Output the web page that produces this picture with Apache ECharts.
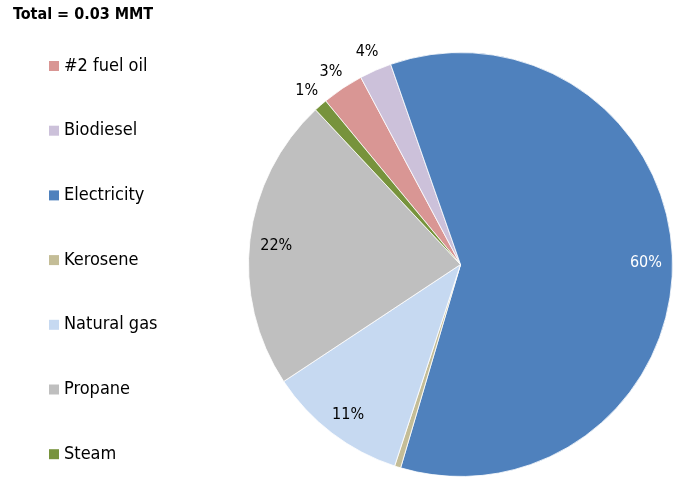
<!DOCTYPE html>
<html>
<head>
<meta charset="utf-8">
<script src="https://cdn.jsdelivr.net/npm/echarts@6/dist/echarts.min.js"></script>
<style>
  html, body { margin: 0; padding: 0; background: #fff; }
  #chart { width: 682px; height: 478px; }
</style>
</head>
<body>
<div id="chart"></div>
<script>
// fuel categories (legend order, drawn clockwise)
const categories = ["#2 fuel oil", "Biodiesel", "Electricity", "Kerosene", "Natural gas", "Propane", "Steam"];
// share of total, %
const shares = [3.18, 2.45, 59.9, 0.47, 10.67, 22.32, 1.01];
// data labels as printed on the chart
const pctLabels = ["3%", "4%", "60%", "", "11%", "22%", "1%"];
const colors = ["#D99694", "#CCC1DA", "#4F81BD", "#C4BD97", "#C6D9F1", "#BFBFBF", "#77933C"];
// which labels sit outside the pie
const outside = [true, true, false, false, false, false, true];

const FONT = '"DejaVu Sans Condensed", "DejaVu Sans", sans-serif';
const center = [460.5, 264.5];
const startAngle = 129.5;

const chart = echarts.init(document.getElementById("chart"));

const pieData = categories.map((name, i) => ({
  name: name,
  value: shares[i],
  itemStyle: { color: colors[i] },
}));

// transparent ring that only carries labels
const labelRing = (radius, pickOutside) => ({
  type: "pie",
  radius: radius,
  center: center,
  startAngle: startAngle,
  clockwise: true,
  silent: true,
  avoidLabelOverlap: false,
  emphasis: { disabled: true },
  itemStyle: { color: "rgba(0,0,0,0)", borderWidth: 0 },
  labelLine: { show: false },
  data: categories.map((name, i) => ({
    name: name,
    value: shares[i],
    label: {
      show: outside[i] === pickOutside && pctLabels[i] !== "",
      position: "inside",
      formatter: pctLabels[i],
      color: i === 2 ? "#fff" : "#000",
      fontFamily: FONT,
      fontSize: 16,
      offset: [0, pickOutside ? 1 : 3],
    },
  })),
});

const option = {
  animation: false,
  title: {
    text: "Total = 0.03 MMT",
    left: 13,
    top: 7,
    padding: 0,
    textStyle: { fontFamily: FONT, fontSize: 16, fontWeight: "bold", color: "#000" },
  },
  legend: {
    orient: "vertical",
    left: 49,
    top: 56,
    padding: 0,
    itemWidth: 10,
    itemHeight: 10,
    itemGap: 44.7,
    icon: "rect",
    selectedMode: false,
    data: categories,
    itemStyle: { borderWidth: 0 },
    textStyle: { fontFamily: FONT, fontSize: 18, lineHeight: 20, color: "#000" },
  },
  series: [
    {
      type: "pie",
      radius: 212,
      center: center,
      startAngle: startAngle,
      clockwise: true,
      silent: true,
      label: { show: false },
      labelLine: { show: false },
      itemStyle: { borderColor: "#fff", borderWidth: 0.8 },
      data: pieData,
    },
    labelRing([153, 212], false),
    labelRing([220, 240], true),
  ],
};

chart.setOption(option);
</script>
</body>
</html>
